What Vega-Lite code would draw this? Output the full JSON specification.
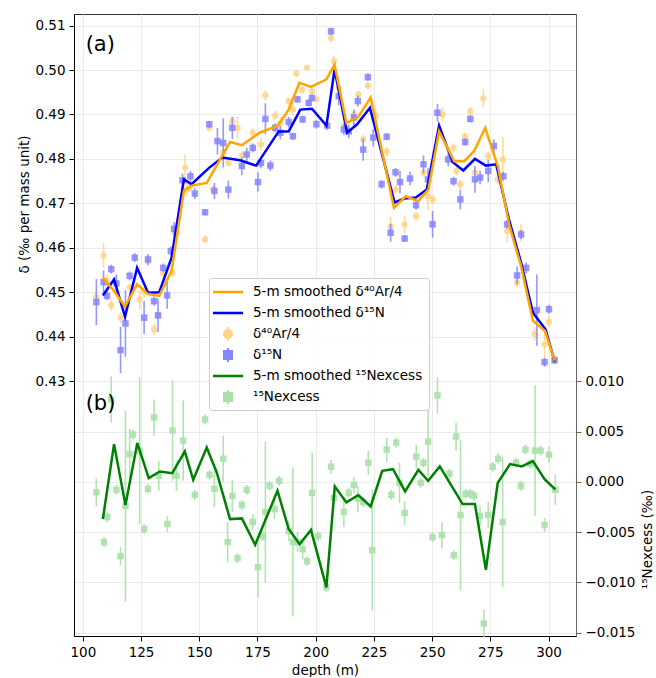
{
  "$schema": "https://vega.github.io/schema/vega-lite/v6.json",
  "width": 502,
  "height": 622,
  "padding": {"left": 17, "top": 14, "right": 0, "bottom": 0},
  "config": {
    "font": "DejaVu Sans",
    "view": {"stroke": "#333333", "strokeWidth": 1},
    "axis": {
      "labelFont": "DejaVu Sans", "labelFontSize": 13.5, "labelColor": "black",
      "titleFont": "DejaVu Sans", "titleFontSize": 13.5, "titleFontWeight": "normal", "titleColor": "black",
      "tickColor": "black", "tickSize": 5, "domainColor": "black", "gridColor": "#ebebeb", "gridWidth": 1,
      "labelPadding": 4, "labelFlush": false, "labelOverlap": false
    },
    "legend": {
      "fillColor": "rgba(255,255,255,0.85)", "strokeColor": "#cccccc", "cornerRadius": 3,
      "padding": 6, "rowPadding": 6, "labelFont": "DejaVu Sans", "labelFontSize": 13.5,
      "labelColor": "black", "symbolSize": 256, "labelOffset": 22, "labelLimit": 400,
      "symbolStrokeWidth": 0, "symbolOpacity": 1
    }
  },
  "datasets": {
    "ar": [
      {"d":105.8,"v":0.4489,"e":0.0012},{"d":108.9,"v":0.4583,"e":0.0028},{"d":110.4,"v":0.4527,"e":0.0012},
      {"d":112.2,"v":0.4471,"e":0.0013},{"d":116.2,"v":0.4443,"e":0.0012},{"d":120.1,"v":0.4511,"e":0.0010},
      {"d":124.4,"v":0.4484,"e":0.0022},{"d":126.3,"v":0.4500,"e":0.0012},{"d":128.0,"v":0.4570,"e":0.0010},
      {"d":130.6,"v":0.4417,"e":0.0013},{"d":132.3,"v":0.4450,"e":0.0010},{"d":134.5,"v":0.4543,"e":0.0012},
      {"d":138.5,"v":0.4544,"e":0.0012},{"d":139.2,"v":0.4635,"e":0.0015},{"d":140.3,"v":0.4634,"e":0.0010},
      {"d":143.9,"v":0.4780,"e":0.0030},{"d":144.6,"v":0.4731,"e":0.0015},{"d":146.3,"v":0.4740,"e":0.0012},
      {"d":152.5,"v":0.4619,"e":0.0008},{"d":154.3,"v":0.4870,"e":0.0008},{"d":156.0,"v":0.4731,"e":0.0010},
      {"d":160.3,"v":0.4814,"e":0.0012},{"d":162.5,"v":0.4791,"e":0.0008},{"d":164.2,"v":0.4885,"e":0.0010},
      {"d":166.4,"v":0.4870,"e":0.0025},{"d":168.3,"v":0.4808,"e":0.0010},{"d":173.0,"v":0.4859,"e":0.0010},
      {"d":176.5,"v":0.4833,"e":0.0015},{"d":178.4,"v":0.4943,"e":0.0012},{"d":180.5,"v":0.4785,"e":0.0008},
      {"d":182.6,"v":0.4898,"e":0.0010},{"d":184.8,"v":0.4880,"e":0.0015},{"d":188.4,"v":0.4930,"e":0.0008},
      {"d":190.2,"v":0.4911,"e":0.0015},{"d":191.7,"v":0.4992,"e":0.0008},{"d":194.1,"v":0.4955,"e":0.0008},
      {"d":196.3,"v":0.5005,"e":0.0006},{"d":198.4,"v":0.4952,"e":0.0008},{"d":200.3,"v":0.4934,"e":0.0008},
      {"d":206.6,"v":0.5072,"e":0.0008},{"d":207.8,"v":0.5020,"e":0.0012},{"d":209.9,"v":0.4960,"e":0.0025},
      {"d":212.1,"v":0.4875,"e":0.0010},{"d":216.4,"v":0.4900,"e":0.0010},{"d":218.3,"v":0.4945,"e":0.0008},
      {"d":220.4,"v":0.4844,"e":0.0010},{"d":222.4,"v":0.4965,"e":0.0008},{"d":225.7,"v":0.4896,"e":0.0025},
      {"d":230.5,"v":0.4817,"e":0.0010},{"d":232.2,"v":0.4648,"e":0.0022},{"d":234.3,"v":0.4731,"e":0.0010},
      {"d":238.2,"v":0.4653,"e":0.0020},{"d":243.1,"v":0.4671,"e":0.0010},{"d":246.3,"v":0.4769,"e":0.0010},
      {"d":248.2,"v":0.4716,"e":0.0030},{"d":250.2,"v":0.4709,"e":0.0010},{"d":254.4,"v":0.4900,"e":0.0015},
      {"d":259.2,"v":0.4825,"e":0.0010},{"d":260.5,"v":0.4773,"e":0.0010},{"d":262.1,"v":0.4743,"e":0.0010},
      {"d":264.2,"v":0.4851,"e":0.0008},{"d":266.4,"v":0.4907,"e":0.0010},{"d":268.4,"v":0.4769,"e":0.0010},
      {"d":272.0,"v":0.4936,"e":0.0020},{"d":274.1,"v":0.4806,"e":0.0010},{"d":278.2,"v":0.4754,"e":0.0010},
      {"d":280.4,"v":0.4799,"e":0.0050},{"d":282.2,"v":0.4638,"e":0.0025},{"d":286.5,"v":0.4522,"e":0.0010},
      {"d":288.2,"v":0.4634,"e":0.0020},{"d":294.0,"v":0.4406,"e":0.0015},{"d":298.3,"v":0.4383,"e":0.0030},
      {"d":300.2,"v":0.4434,"e":0.0012},{"d":302.6,"v":0.4350,"e":0.0008}
    ],
    "n": [
      {"d":105.8,"v":0.4478,"e":0.0052},{"d":108.9,"v":0.4523,"e":0.0026},{"d":110.4,"v":0.4492,"e":0.0010},
      {"d":112.2,"v":0.4552,"e":0.0010},{"d":114.4,"v":0.4520,"e":0.0020},{"d":116.2,"v":0.4370,"e":0.0052},
      {"d":118.3,"v":0.4430,"e":0.0075},{"d":120.1,"v":0.4537,"e":0.0010},{"d":122.3,"v":0.4578,"e":0.0010},
      {"d":126.3,"v":0.4443,"e":0.0037},{"d":128.0,"v":0.4574,"e":0.0012},{"d":130.6,"v":0.4480,"e":0.0010},
      {"d":132.3,"v":0.4448,"e":0.0037},{"d":134.5,"v":0.4555,"e":0.0010},{"d":136.2,"v":0.4493,"e":0.0030},
      {"d":137.8,"v":0.4593,"e":0.0010},{"d":139.2,"v":0.4643,"e":0.0015},{"d":142.8,"v":0.4752,"e":0.0015},
      {"d":146.2,"v":0.4761,"e":0.0012},{"d":148.1,"v":0.4722,"e":0.0012},{"d":152.5,"v":0.4680,"e":0.0006},
      {"d":154.3,"v":0.4878,"e":0.0008},{"d":156.5,"v":0.4728,"e":0.0018},{"d":157.8,"v":0.4840,"e":0.0030},
      {"d":160.3,"v":0.4836,"e":0.0055},{"d":162.5,"v":0.4731,"e":0.0020},{"d":164.2,"v":0.4870,"e":0.0025},
      {"d":168.3,"v":0.4784,"e":0.0020},{"d":170.4,"v":0.4810,"e":0.0015},{"d":173.0,"v":0.4825,"e":0.0010},
      {"d":175.2,"v":0.4748,"e":0.0022},{"d":176.5,"v":0.4791,"e":0.0012},{"d":178.4,"v":0.4890,"e":0.0035},
      {"d":180.5,"v":0.4785,"e":0.0012},{"d":182.6,"v":0.4870,"e":0.0010},{"d":184.8,"v":0.4859,"e":0.0015},
      {"d":188.4,"v":0.4883,"e":0.0012},{"d":190.2,"v":0.4851,"e":0.0008},{"d":192.2,"v":0.4934,"e":0.0008},
      {"d":194.4,"v":0.4889,"e":0.0008},{"d":197.0,"v":0.4926,"e":0.0008},{"d":198.4,"v":0.4937,"e":0.0008},
      {"d":200.3,"v":0.4878,"e":0.0010},{"d":204.9,"v":0.4875,"e":0.0010},{"d":206.6,"v":0.5087,"e":0.0008},
      {"d":209.9,"v":0.4941,"e":0.0020},{"d":212.1,"v":0.4866,"e":0.0012},{"d":214.2,"v":0.4862,"e":0.0015},
      {"d":216.4,"v":0.4893,"e":0.0018},{"d":218.1,"v":0.4930,"e":0.0012},{"d":220.4,"v":0.4821,"e":0.0025},
      {"d":222.4,"v":0.4984,"e":0.0008},{"d":224.7,"v":0.4848,"e":0.0020},{"d":228.3,"v":0.4743,"e":0.0010},
      {"d":230.5,"v":0.4850,"e":0.0008},{"d":232.2,"v":0.4634,"e":0.0020},{"d":234.3,"v":0.4770,"e":0.0010},
      {"d":236.2,"v":0.4748,"e":0.0025},{"d":238.2,"v":0.4621,"e":0.0008},{"d":240.5,"v":0.4756,"e":0.0015},
      {"d":243.1,"v":0.4696,"e":0.0010},{"d":246.3,"v":0.4788,"e":0.0020},{"d":248.2,"v":0.4754,"e":0.0025},
      {"d":250.2,"v":0.4653,"e":0.0030},{"d":252.3,"v":0.4904,"e":0.0020},{"d":256.9,"v":0.4799,"e":0.0015},
      {"d":259.2,"v":0.4750,"e":0.0010},{"d":262.1,"v":0.4709,"e":0.0022},{"d":264.2,"v":0.4838,"e":0.0008},
      {"d":266.4,"v":0.4890,"e":0.0008},{"d":268.4,"v":0.4754,"e":0.0030},{"d":270.6,"v":0.4758,"e":0.0015},
      {"d":274.1,"v":0.4773,"e":0.0025},{"d":276.5,"v":0.4829,"e":0.0015},{"d":280.6,"v":0.4761,"e":0.0010},
      {"d":282.2,"v":0.4653,"e":0.0010},{"d":286.5,"v":0.4538,"e":0.0020},{"d":288.2,"v":0.4630,"e":0.0010},
      {"d":290.4,"v":0.4555,"e":0.0012},{"d":295.0,"v":0.4460,"e":0.0080},{"d":298.3,"v":0.4343,"e":0.0010},
      {"d":300.2,"v":0.4462,"e":0.0010},{"d":302.6,"v":0.4347,"e":0.0008}
    ],
    "ex": [
      {"d":105.8,"v":-0.00105,"e":0.0014},{"d":109.1,"v":-0.0060,"e":0.0005},{"d":110.5,"v":-0.0035,"e":0.0005},
      {"d":112.2,"v":0.0082,"e":0.0023},{"d":114.4,"v":-0.0008,"e":0.0005},{"d":116.2,"v":-0.0074,"e":0.0009},
      {"d":118.3,"v":-0.0024,"e":0.0095},{"d":120.1,"v":0.00275,"e":0.0025},{"d":121.5,"v":0.0047,"e":0.0005},
      {"d":124.4,"v":0.0031,"e":0.0073},{"d":126.3,"v":-0.0047,"e":0.0005},{"d":128.0,"v":-0.0007,"e":0.0005},
      {"d":130.6,"v":0.0064,"e":0.0018},{"d":132.6,"v":0.0006,"e":0.0015},{"d":136.3,"v":-0.0042,"e":0.0008},
      {"d":138.5,"v":0.0051,"e":0.0050},{"d":140.2,"v":0.0006,"e":0.0015},{"d":143.1,"v":0.0041,"e":0.0040},
      {"d":148.1,"v":-0.0013,"e":0.0005},{"d":152.5,"v":0.0062,"e":0.0005},{"d":154.4,"v":0.0007,"e":0.0005},
      {"d":156.5,"v":-0.0007,"e":0.0018},{"d":160.3,"v":0.0023,"e":0.0023},{"d":162.2,"v":-0.0060,"e":0.0020},
      {"d":164.2,"v":-0.0014,"e":0.0016},{"d":166.4,"v":-0.0076,"e":0.0005},{"d":168.3,"v":-0.0023,"e":0.0005},
      {"d":170.4,"v":-0.0008,"e":0.0005},{"d":173.0,"v":-0.0040,"e":0.0008},{"d":175.2,"v":-0.0085,"e":0.0030},
      {"d":177.2,"v":-0.0054,"e":0.0005},{"d":178.4,"v":-0.0030,"e":0.0070},{"d":180.2,"v":-0.0004,"e":0.0005},
      {"d":182.3,"v":-0.0027,"e":0.0010},{"d":184.3,"v":0.0001,"e":0.0005},{"d":188.4,"v":-0.0049,"e":0.0010},
      {"d":190.2,"v":-0.0060,"e":0.0074},{"d":192.2,"v":-0.0060,"e":0.0010},{"d":194.4,"v":-0.0067,"e":0.0010},
      {"d":196.3,"v":-0.0079,"e":0.0005},{"d":198.5,"v":-0.0011,"e":0.0040},{"d":201.0,"v":-0.0054,"e":0.0005},
      {"d":204.6,"v":-0.0105,"e":0.0005},{"d":206.6,"v":0.0015,"e":0.0007},{"d":207.8,"v":-0.0016,"e":0.0005},
      {"d":212.1,"v":-0.0030,"e":0.0015},{"d":214.2,"v":-0.0011,"e":0.0005},{"d":216.4,"v":-0.0003,"e":0.0008},
      {"d":218.1,"v":-0.0017,"e":0.0013},{"d":220.4,"v":-0.0020,"e":0.0005},{"d":222.6,"v":0.0019,"e":0.0012},
      {"d":224.3,"v":-0.0068,"e":0.0060},{"d":230.5,"v":0.0032,"e":0.0012},{"d":232.5,"v":-0.0013,"e":0.0005},
      {"d":234.6,"v":0.0039,"e":0.0005},{"d":236.0,"v":-0.0001,"e":0.0020},{"d":238.2,"v":-0.0031,"e":0.0012},
      {"d":243.2,"v":0.0025,"e":0.0012},{"d":245.1,"v":-0.0001,"e":0.0005},{"d":246.3,"v":0.0019,"e":0.0005},
      {"d":248.3,"v":0.0040,"e":0.0035},{"d":250.2,"v":-0.0055,"e":0.0005},{"d":252.3,"v":0.0086,"e":0.0018},
      {"d":254.2,"v":-0.0053,"e":0.0013},{"d":257.4,"v":0.0008,"e":0.0005},{"d":259.3,"v":-0.0073,"e":0.0005},
      {"d":260.3,"v":0.0045,"e":0.0014},{"d":262.2,"v":-0.0033,"e":0.0075},{"d":264.4,"v":-0.0012,"e":0.0005},
      {"d":266.4,"v":-0.0012,"e":0.0005},{"d":268.0,"v":-0.0014,"e":0.0005},{"d":270.6,"v":-0.0034,"e":0.0010},
      {"d":272.2,"v":-0.0141,"e":0.0014},{"d":274.1,"v":-0.0033,"e":0.0013},{"d":276.0,"v":0.0015,"e":0.0005},
      {"d":278.4,"v":0.0023,"e":0.0005},{"d":280.3,"v":-0.0040,"e":0.0065},{"d":286.1,"v":0.0019,"e":0.0005},
      {"d":288.2,"v":-0.0004,"e":0.0005},{"d":290.1,"v":0.0032,"e":0.0005},{"d":292.3,"v":0.0018,"e":0.0005},
      {"d":294.2,"v":0.0031,"e":0.0065},{"d":296.6,"v":0.0031,"e":0.0005},{"d":298.3,"v":-0.0043,"e":0.0007},
      {"d":300.2,"v":0.0027,"e":0.0008},{"d":302.9,"v":-0.0008,"e":0.0015}
    ],
    "arS": [
      {"d":108.6,"v":0.4533},{"d":113.4,"v":0.4503},{"d":118.1,"v":0.4468},{"d":123.3,"v":0.4518},
      {"d":128.0,"v":0.4496},{"d":132.8,"v":0.4492},{"d":138.1,"v":0.4548},{"d":143.4,"v":0.4728},
      {"d":146.7,"v":0.4740},{"d":153.2,"v":0.4746},{"d":163.2,"v":0.4838},{"d":168.3,"v":0.4831},
      {"d":175.9,"v":0.4859},{"d":183.6,"v":0.4874},{"d":188.4,"v":0.4911},{"d":193.0,"v":0.4971},
      {"d":198.0,"v":0.4962},{"d":204.6,"v":0.4979},{"d":208.1,"v":0.5012},{"d":213.2,"v":0.4881},
      {"d":218.1,"v":0.4893},{"d":223.6,"v":0.4938},{"d":233.6,"v":0.4690},{"d":238.7,"v":0.4716},
      {"d":244.0,"v":0.4705},{"d":248.4,"v":0.4731},{"d":253.0,"v":0.4862},{"d":259.5,"v":0.4795},
      {"d":263.8,"v":0.4795},{"d":268.1,"v":0.4818},{"d":272.8,"v":0.4870},{"d":278.2,"v":0.4784},
      {"d":283.2,"v":0.4650},{"d":288.2,"v":0.4559},{"d":293.3,"v":0.4436},{"d":298.5,"v":0.4413},
      {"d":302.6,"v":0.4346}
    ],
    "nS": [
      {"d":108.6,"v":0.4493},{"d":113.4,"v":0.4529},{"d":118.1,"v":0.4445},{"d":123.3,"v":0.4555},
      {"d":128.0,"v":0.4499},{"d":132.8,"v":0.4500},{"d":138.1,"v":0.4578},{"d":143.4,"v":0.4754},
      {"d":146.7,"v":0.4743},{"d":154.2,"v":0.4780},{"d":159.9,"v":0.4803},{"d":167.5,"v":0.4797},
      {"d":174.4,"v":0.4785},{"d":184.1,"v":0.4862},{"d":188.4,"v":0.4862},{"d":193.4,"v":0.4911},
      {"d":198.4,"v":0.4913},{"d":204.6,"v":0.4875},{"d":208.1,"v":0.5001},{"d":213.5,"v":0.4859},
      {"d":217.8,"v":0.4878},{"d":223.3,"v":0.4915},{"d":233.9,"v":0.4702},{"d":238.2,"v":0.4711},
      {"d":243.0,"v":0.4713},{"d":247.7,"v":0.4731},{"d":253.0,"v":0.4875},{"d":258.8,"v":0.4793},
      {"d":263.4,"v":0.4774},{"d":268.4,"v":0.4800},{"d":273.1,"v":0.4785},{"d":277.5,"v":0.4788},
      {"d":283.0,"v":0.4664},{"d":288.2,"v":0.4567},{"d":293.3,"v":0.4454},{"d":298.7,"v":0.4417},
      {"d":302.6,"v":0.4344}
    ],
    "exS": [
      {"d":108.6,"v":-0.00371},{"d":113.4,"v":0.00375},{"d":118.3,"v":-0.00232},{"d":123.4,"v":0.00385},
      {"d":128.3,"v":0.00037},{"d":133.1,"v":0.00103},{"d":138.4,"v":0.00086},{"d":143.8,"v":0.00302},
      {"d":147.4,"v":0.0002},{"d":153.2,"v":0.00342},{"d":157.5,"v":0.00093},{"d":163.2,"v":-0.00371},
      {"d":168.3,"v":-0.00364},{"d":174.0,"v":-0.00626},{"d":183.6,"v":-0.00089},{"d":188.4,"v":-0.0047},
      {"d":193.1,"v":-0.0062},{"d":198.0,"v":-0.0048},{"d":204.6,"v":-0.0105},{"d":208.2,"v":-0.00046},
      {"d":213.2,"v":-0.00205},{"d":218.3,"v":-0.00132},{"d":223.6,"v":-0.00245},{"d":228.6,"v":0.00109},
      {"d":233.2,"v":0.00126},{"d":238.4,"v":-0.00096},{"d":244.1,"v":0.00119},{"d":248.3,"v":0.0001},
      {"d":253.3,"v":0.00153},{"d":263.1,"v":-0.00222},{"d":268.4,"v":-0.00222},{"d":273.1,"v":-0.00875},
      {"d":278.2,"v":-0.0001},{"d":283.5,"v":0.00176},{"d":288.5,"v":0.00153},{"d":293.3,"v":0.00206},
      {"d":298.3,"v":0.00027},{"d":302.9,"v":-0.00076}
    ],
    "labA": [{"d":101.2,"v":0.5057,"t":"(a)"}],
    "labB": [{"d":101.2,"v":0.0077,"t":"(b)"}]
  },
  "layer": [
    {
      "encoding": {
        "x": {"field":"d","type":"quantitative","title":"depth (m)",
              "scale":{"domain":[96.2,311.8],"nice":false,"zero":false},
              "axis":{"values":[100,125,150,175,200,225,250,275,300],"grid":true,"titlePadding":5}},
        "y": {"field":"v","type":"quantitative","title":"δ (‰ per mass unit)",
              "scale":{"domain":[0.3727,0.5126],"nice":false,"zero":false},
              "axis":{"orient":"left","values":[0.43,0.44,0.45,0.46,0.47,0.48,0.49,0.5,0.51],"format":".2f","grid":true,"titlePadding":3,"titleY":190}}
      },
      "layer": [
        {"data":{"name":"ar"},"mark":{"type":"errorbar","ticks":false,"thickness":1.6},
         "encoding":{"yError":{"field":"e"},"opacity":{"value":0.85},
           "color":{"datum":"ar","type":"nominal",
             "scale":{"domain":["arS","nS","ar","n","exS","ex"],"range":["#FFA500","#0000FF","#ffd38a","#8585ff","#008000","#abe0ab"]},
             "legend":{"orient":"none","legendX":135,"legendY":264,"title":null,
               "labelExpr":"datum.value === 'arS' ? '5-m smoothed δ⁴⁰Ar/4' : datum.value === 'nS' ? '5-m smoothed δ¹⁵N' : datum.value === 'ar' ? 'δ⁴⁰Ar/4' : datum.value === 'n' ? 'δ¹⁵N' : datum.value === 'exS' ? '5-m smoothed ¹⁵Nexcess' : '¹⁵Nexcess'",
               "symbolType":{"expr":"datum.value === 'ar' ? 'M0,0A0.625,0.625 0 1,1 1.25,0A0.625,0.625 0 1,1 0,0Z M0.5,-0.875H0.75V0.875H0.5Z' : (datum.value === 'n' || datum.value === 'ex') ? 'M0,-0.625H1.25V0.625H0Z M0.5,-0.875H0.75V0.875H0.5Z' : 'M-1.25,-0.16H2.5V0.16H-1.25Z'"}
             }}}},
        {"data":{"name":"ar"},"mark":{"type":"point","shape":"circle","filled":true,"size":40,"opacity":0.85},
         "encoding":{"color":{"datum":"ar","type":"nominal"}}},
        {"data":{"name":"n"},"mark":{"type":"errorbar","ticks":false,"thickness":1.6},
         "encoding":{"yError":{"field":"e"},"opacity":{"value":0.85},"color":{"datum":"n","type":"nominal"}}},
        {"data":{"name":"n"},"mark":{"type":"point","shape":"square","filled":true,"size":42,"opacity":0.85},
         "encoding":{"color":{"datum":"n","type":"nominal"}}},
        {"data":{"name":"nS"},"mark":{"type":"line","strokeWidth":2.5},
         "encoding":{"color":{"datum":"nS","type":"nominal"}}},
        {"data":{"name":"arS"},"mark":{"type":"line","strokeWidth":2.5},
         "encoding":{"color":{"datum":"arS","type":"nominal"}}},
        {"data":{"name":"labA"},"mark":{"type":"text","align":"left","baseline":"middle","fontSize":21,"color":"black","font":"DejaVu Sans"},
         "encoding":{"text":{"field":"t"}}}
      ]
    },
    {
      "encoding": {
        "x": {"field":"d","type":"quantitative","title":"depth (m)",
              "scale":{"domain":[96.2,311.8],"nice":false,"zero":false},
              "axis":{"values":[100,125,150,175,200,225,250,275,300],"grid":true,"titlePadding":5}},
        "y": {"field":"v","type":"quantitative","title":"¹⁵Nexcess (‰)",
              "scale":{"domain":[-0.01534,0.04654],"nice":false,"zero":false},
              "axis":{"orient":"right","values":[-0.015,-0.01,-0.005,0,0.005,0.01],"format":".3f","grid":true,
                      "domainColor":"#666666","tickColor":"#666666","titleAngle":270,"titleBaseline":"top","titlePadding":6,"titleY":525}}
      },
      "layer": [
        {"data":{"name":"ex"},"mark":{"type":"errorbar","ticks":false,"thickness":1.6},
         "encoding":{"yError":{"field":"e"},"opacity":{"value":0.9},"color":{"datum":"ex","type":"nominal"}}},
        {"data":{"name":"ex"},"mark":{"type":"point","shape":"square","filled":true,"size":42,"opacity":0.9},
         "encoding":{"color":{"datum":"ex","type":"nominal"}}},
        {"data":{"name":"exS"},"mark":{"type":"line","strokeWidth":2.5},
         "encoding":{"color":{"datum":"exS","type":"nominal"}}},
        {"data":{"name":"labB"},"mark":{"type":"text","align":"left","baseline":"middle","fontSize":21,"color":"black","font":"DejaVu Sans"},
         "encoding":{"text":{"field":"t"}}}
      ]
    }
  ],
  "resolve": {"scale": {"y": "independent"}, "axis": {"y": "independent"}}
}
